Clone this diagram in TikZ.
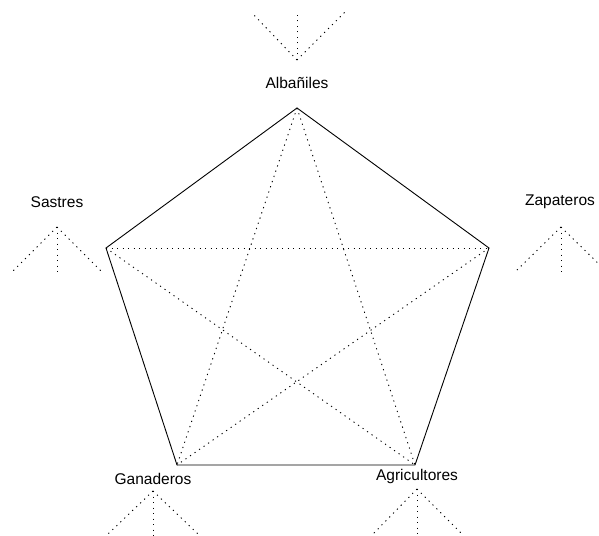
\documentclass[tikz,border=0pt]{standalone}
\usepackage{fontspec}
\setmainfont{Liberation Sans}
\begin{document}
\begin{tikzpicture}[x=1pt,y=-1pt,
  edge/.style={line width=0.9pt},
  diag/.style={line width=0.9pt,dash pattern=on 1.2pt off 4.3pt},
  fan/.style={line width=0.9pt,dash pattern=on 1.2pt off 4.3pt},
  lab/.style={font=\fontsize{15.5}{18}\selectfont,inner sep=0pt}]
\useasboundingbox (0,0) rectangle (599,535);
% pentagon vertices
\coordinate (T) at (297,108);
\coordinate (L) at (106,248);
\coordinate (R) at (489,248);
\coordinate (BL) at (177,465);
\coordinate (BR) at (415,465);
\draw[edge] (T) -- (R) -- (BR) -- (BL) -- (L) -- cycle;
\draw[diag] (T) -- (BL);
\draw[diag] (T) -- (BR);
\draw[diag] (L) -- (R);
\draw[diag] (L) -- (BR);
\draw[diag] (R) -- (BL);
% labels
\node[lab] (alb) at (297,83) {Albañiles};
\node[lab] (sas) at (57,202) {Sastres};
\node[lab] (zap) at (560,202) {Zapateros};
\node[lab] (gan) at (153,479) {Ganaderos};
\node[lab] (agr) at (417,476) {Agricultores};
% fans
\coordinate (a0) at (297,60);
\coordinate (a1) at (252,13);
\coordinate (a2) at (297,12);
\coordinate (a3) at (346,11);
\draw[fan] (a0) -- (a1); \draw[fan] (a0) -- (a2); \draw[fan] (a0) -- (a3);
\coordinate (s0) at (57,227);
\coordinate (s1) at (13,271);
\coordinate (s2) at (57,273);
\coordinate (s3) at (101,271);
\draw[fan] (s0) -- (s1); \draw[fan] (s0) -- (s2); \draw[fan] (s0) -- (s3);
\coordinate (z0) at (561,227);
\coordinate (z1) at (516,271);
\coordinate (z2) at (561,273);
\coordinate (z3) at (606,271);
\draw[fan] (z0) -- (z1); \draw[fan] (z0) -- (z2); \draw[fan] (z0) -- (z3);
\coordinate (g0) at (153,491);
\coordinate (g1) at (108,534);
\coordinate (g2) at (153,536);
\coordinate (g3) at (198,534);
\draw[fan] (g0) -- (g1); \draw[fan] (g0) -- (g2); \draw[fan] (g0) -- (g3);
\coordinate (r0) at (417,489);
\coordinate (r1) at (373,534);
\coordinate (r2) at (417,536);
\coordinate (r3) at (462,534);
\draw[fan] (r0) -- (r1); \draw[fan] (r0) -- (r2); \draw[fan] (r0) -- (r3);
\end{tikzpicture}
\end{document}
